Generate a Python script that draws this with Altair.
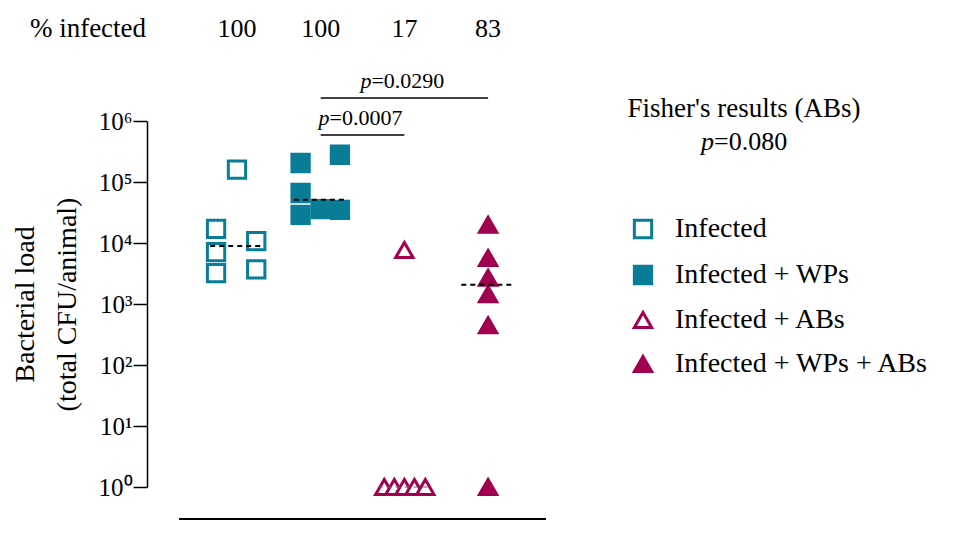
import altair as alt
import pandas as pd
import numpy as np

# ---------------- data ----------------
groups = ["Infected", "Infected + WPs", "Infected + ABs", "Infected + WPs + ABs"]
group_pos = [1, 2, 3, 4]
pct_infected = ["100", "100", "17", "83"]

infected_vals = [1.6e5, 1.7e4, 7.1e3, 3.2e3, 1.07e4, 3.7e3]
infected_off = [0.0, -0.25, -0.25, -0.25, 0.23, 0.23]
wps_vals = [2.05e5, 6.6e4, 2.9e4, 2.8e5, 3.6e4, 3.5e4]
wps_off = [-0.24, -0.24, -0.24, 0.23, 0.0, 0.23]
abs_vals = [7.7e3, 1, 1, 1, 1, 1]
abs_off = [0.0, -0.24, -0.12, 0.0, 0.12, 0.25]
wpabs_vals = [2.0e4, 5.7e3, 2.7e3, 1.45e3, 4.5e2, 1]
wpabs_off = [0.0, 0.0, 0.0, 0.0, 0.0, 0.0]

comp_from = ["Infected + WPs", "Infected + WPs"]
comp_to = ["Infected + ABs", "Infected + WPs + ABs"]
comp_p = ["=0.0007", "=0.0290"]
fisher_title = "Fisher's results (ABs)"
fisher_p = "=0.080"

TEAL = "#0A7D96"
MAGENTA = "#A0004F"
FONT = "Liberation Serif"

# ---------------- tables ----------------
all_vals = [infected_vals, wps_vals, abs_vals, wpabs_vals]
all_offs = [infected_off, wps_off, abs_off, wpabs_off]
rows = []
for g, p, vals, offs in zip(groups, group_pos, all_vals, all_offs):
    for v, o in zip(vals, offs):
        rows.append({"group": g, "x": p + o, "value": v})
points = pd.DataFrame(rows)

med = pd.DataFrame({
    "group": groups,
    "x1": [p - 0.32 for p in group_pos],
    "x2": [p + 0.32 for p in group_pos],
    "median": [float(np.median(v)) for v in all_vals],
})
pct = pd.DataFrame({"x": group_pos, "label": pct_infected})
gpos = dict(zip(groups, group_pos))

xscale = alt.Scale(domain=[-0.075, 4.68], nice=False, zero=False)
yscale = alt.Scale(type="log", domain=[1, 1e6], nice=False)

yaxis = alt.Axis(
    values=[1, 10, 100, 1000, 10000, 100000, 1000000],
    labelExpr="datum.value == 1 ? '10\u2070' : datum.value == 10 ? '10\u00b9' : datum.value == 100 ? '10\u00b2' : datum.value == 1000 ? '10\u00b3' : datum.value == 10000 ? '10\u2074' : datum.value == 100000 ? '10\u2075' : '10\u2076'",
    tickSize=14, tickWidth=1.5, tickColor="black",
    domainWidth=1.5, domainColor="black", grid=False,
    labelFont=FONT, labelFontSize=25, labelColor="black", labelPadding=1,
    title=["Bacterial load", "(total CFU/animal)"],
    titleFont=FONT, titleFontSize=28, titleFontWeight="normal", titleColor="black",
    titlePadding=17, titleLineHeight=42,
)

legend = alt.Legend(
    title=None, orient="none", legendX=482, legendY=94,
    labelFont=FONT, labelFontSize=28, labelColor="black", labelLimit=500,
    symbolSize=300, symbolStrokeWidth=3, rowPadding=16, labelOffset=18,
    padding=0,
)

pts = alt.Chart(points).mark_point(size=300, strokeWidth=3, opacity=1, filled=False).encode(
    x=alt.X("x:Q", scale=xscale, axis=None),
    y=alt.Y("value:Q", scale=yscale, axis=yaxis),
    shape=alt.Shape("group:N", scale=alt.Scale(domain=groups, range=["square", "square", "triangle-up", "triangle-up"]), legend=legend),
    fill=alt.Fill("group:N", scale=alt.Scale(domain=groups, range=["white", TEAL, "white", MAGENTA]), legend=legend),
    stroke=alt.Stroke("group:N", scale=alt.Scale(domain=groups, range=[TEAL, TEAL, MAGENTA, MAGENTA]), legend=legend),
)

med_layer = alt.Chart(med).mark_rule(strokeDash=[5, 4]).encode(
    x="x1:Q", x2="x2:Q", y="median:Q",
    color=alt.condition("datum.median > 1", alt.value("black"), alt.value("#666666")),
    strokeWidth=alt.condition("datum.median > 1", alt.value(2), alt.value(1.2)),
)

one = pd.DataFrame({"a": [0]})
xline = alt.Chart(one).mark_rule(color="black", strokeWidth=2).encode(
    x=alt.value(32), x2=alt.value(399), y=alt.value(398)
)

def label_layer(txt, xv, yv, size, align="center", italic=False):
    df = pd.DataFrame({"t": [txt]})
    return alt.Chart(df).mark_text(
        font=FONT, fontSize=size, align=align, baseline="alphabetic", color="black",
        fontStyle="italic" if italic else "normal",
    ).encode(x=alt.value(xv), y=alt.value(yv), text="t:N")

pct_nums = alt.Chart(pct).mark_text(
    font=FONT, fontSize=26, align="center", baseline="alphabetic", color="black"
).encode(x="x:Q", y=alt.value(-84), text="label:N")

layers = [pts, med_layer, xline, label_layer("% infected", -59, -84, 27), pct_nums]

bar_y = [14, -23]
for a, b, lab, yb in zip(comp_from, comp_to, comp_p, bar_y):
    cdf = pd.DataFrame({"x1": [gpos[a]], "x2": [gpos[b]], "mid": [(gpos[a] + gpos[b]) / 2],
                        "lab": [lab], "p": ["p"]})
    layers.append(alt.Chart(cdf).mark_rule(color="black", strokeWidth=1.5).encode(
        x="x1:Q", x2="x2:Q", y=alt.value(yb)))
    layers.append(alt.Chart(cdf).mark_text(
        font=FONT, fontSize=22, fontStyle="italic", align="right", baseline="alphabetic", dx=-33, color="black"
    ).encode(x="mid:Q", y=alt.value(yb - 10), text="p:N"))
    layers.append(alt.Chart(cdf).mark_text(
        font=FONT, fontSize=22, align="left", baseline="alphabetic", dx=-33, color="black"
    ).encode(x="mid:Q", y=alt.value(yb - 10), text="lab:N"))

layers.append(label_layer(fisher_title, 597, -4, 27))
layers.append(label_layer("p", 567, 29, 26, align="right", italic=True))
layers.append(label_layer(fisher_p, 567, 29, 26, align="left"))

chart = alt.layer(*layers).properties(
    width=398, height=366,
    autosize=alt.AutoSizeParams(type="none"),
    padding={"left": 139, "top": 113, "right": 403, "bottom": 41},
    background="white",
).configure_view(stroke=None)

chart.save("out.html", embed_options={"renderer": "svg", "actions": False})
